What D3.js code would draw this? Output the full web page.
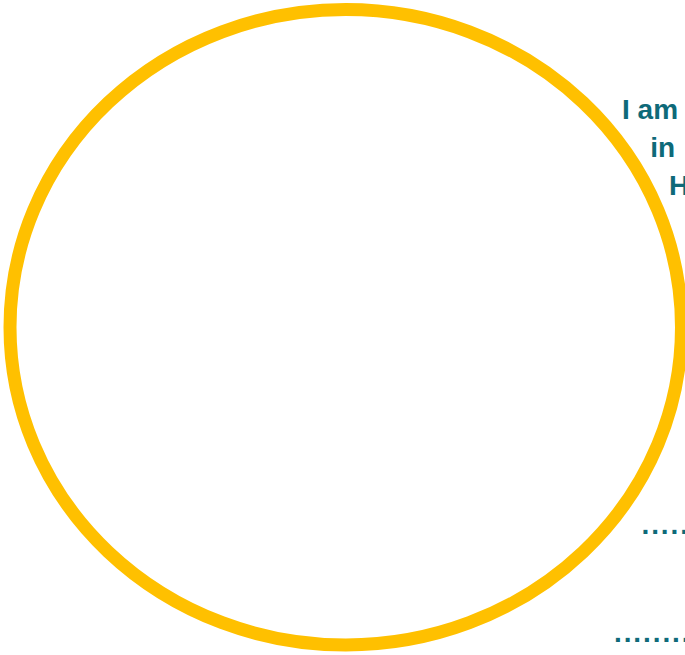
<!DOCTYPE html>
<html>
<head>
<meta charset="utf-8">
<script src="https://cdn.jsdelivr.net/npm/d3@7"></script>
<style>
  html, body { margin: 0; padding: 0; background: #ffffff; overflow: hidden; }
  svg { display: block; }
</style>
</head>
<body>
<div id="chart"></div>
<script>
// ---- data ----
const labelLines = ["I am", "in", "H"];
const labelLineIndex = [0, 1, 2];
const labelIndent = [0, 1.0, 1.67];          // relative indent of each centred line
const dotRows = [".....", "........"];
const dotRowIndex = [0, 1];

// ---- layout ----
const W = 685, H = 655;
const svg = d3.select("#chart").append("svg")
  .attr("width", W).attr("height", H);

// unit space scales for the circle
const sx = d3.scaleLinear().domain([-1, 1]).range([10, 681.5]);
const sy = d3.scaleLinear().domain([-1, 1]).range([9.5, 645]);

svg.append("ellipse")
  .attr("cx", sx(0)).attr("cy", sy(0))
  .attr("rx", sx(1) - sx(0)).attr("ry", sy(1) - sy(0))
  .attr("fill", "none")
  .attr("stroke", "#FFC000")
  .attr("stroke-width", 13);

const teal = "#0E6A79";

// heading lines
const lineY = d3.scaleLinear().domain([0, 2]).range([119, 195]);
const lineX = d3.scaleLinear().domain([0, 1.67]).range([622, 669]);
svg.selectAll("text.head").data(labelLineIndex).enter().append("text")
  .attr("class", "head")
  .attr("x", i => lineX(labelIndent[i]))
  .attr("y", i => lineY(i))
  .attr("fill", teal)
  .attr("font-family", "'Liberation Sans', Arial, sans-serif")
  .attr("font-weight", "bold")
  .attr("font-size", 28)
  .text(i => labelLines[i]);

// dotted rows
const dotY = d3.scaleLinear().domain([0, 1]).range([533.5, 641.5]);
const dotX = d3.scaleLinear().domain([0, 1]).range([641.5, 614]);
svg.selectAll("text.dots").data(dotRowIndex).enter().append("text")
  .attr("class", "dots")
  .attr("x", i => dotX(i))
  .attr("y", i => dotY(i))
  .attr("fill", teal)
  .attr("font-family", "'Liberation Sans', Arial, sans-serif")
  .attr("font-weight", "bold")
  .attr("font-size", 28)
  .attr("letter-spacing", 1.9)
  .text(i => dotRows[i]);
</script>
</body>
</html>
